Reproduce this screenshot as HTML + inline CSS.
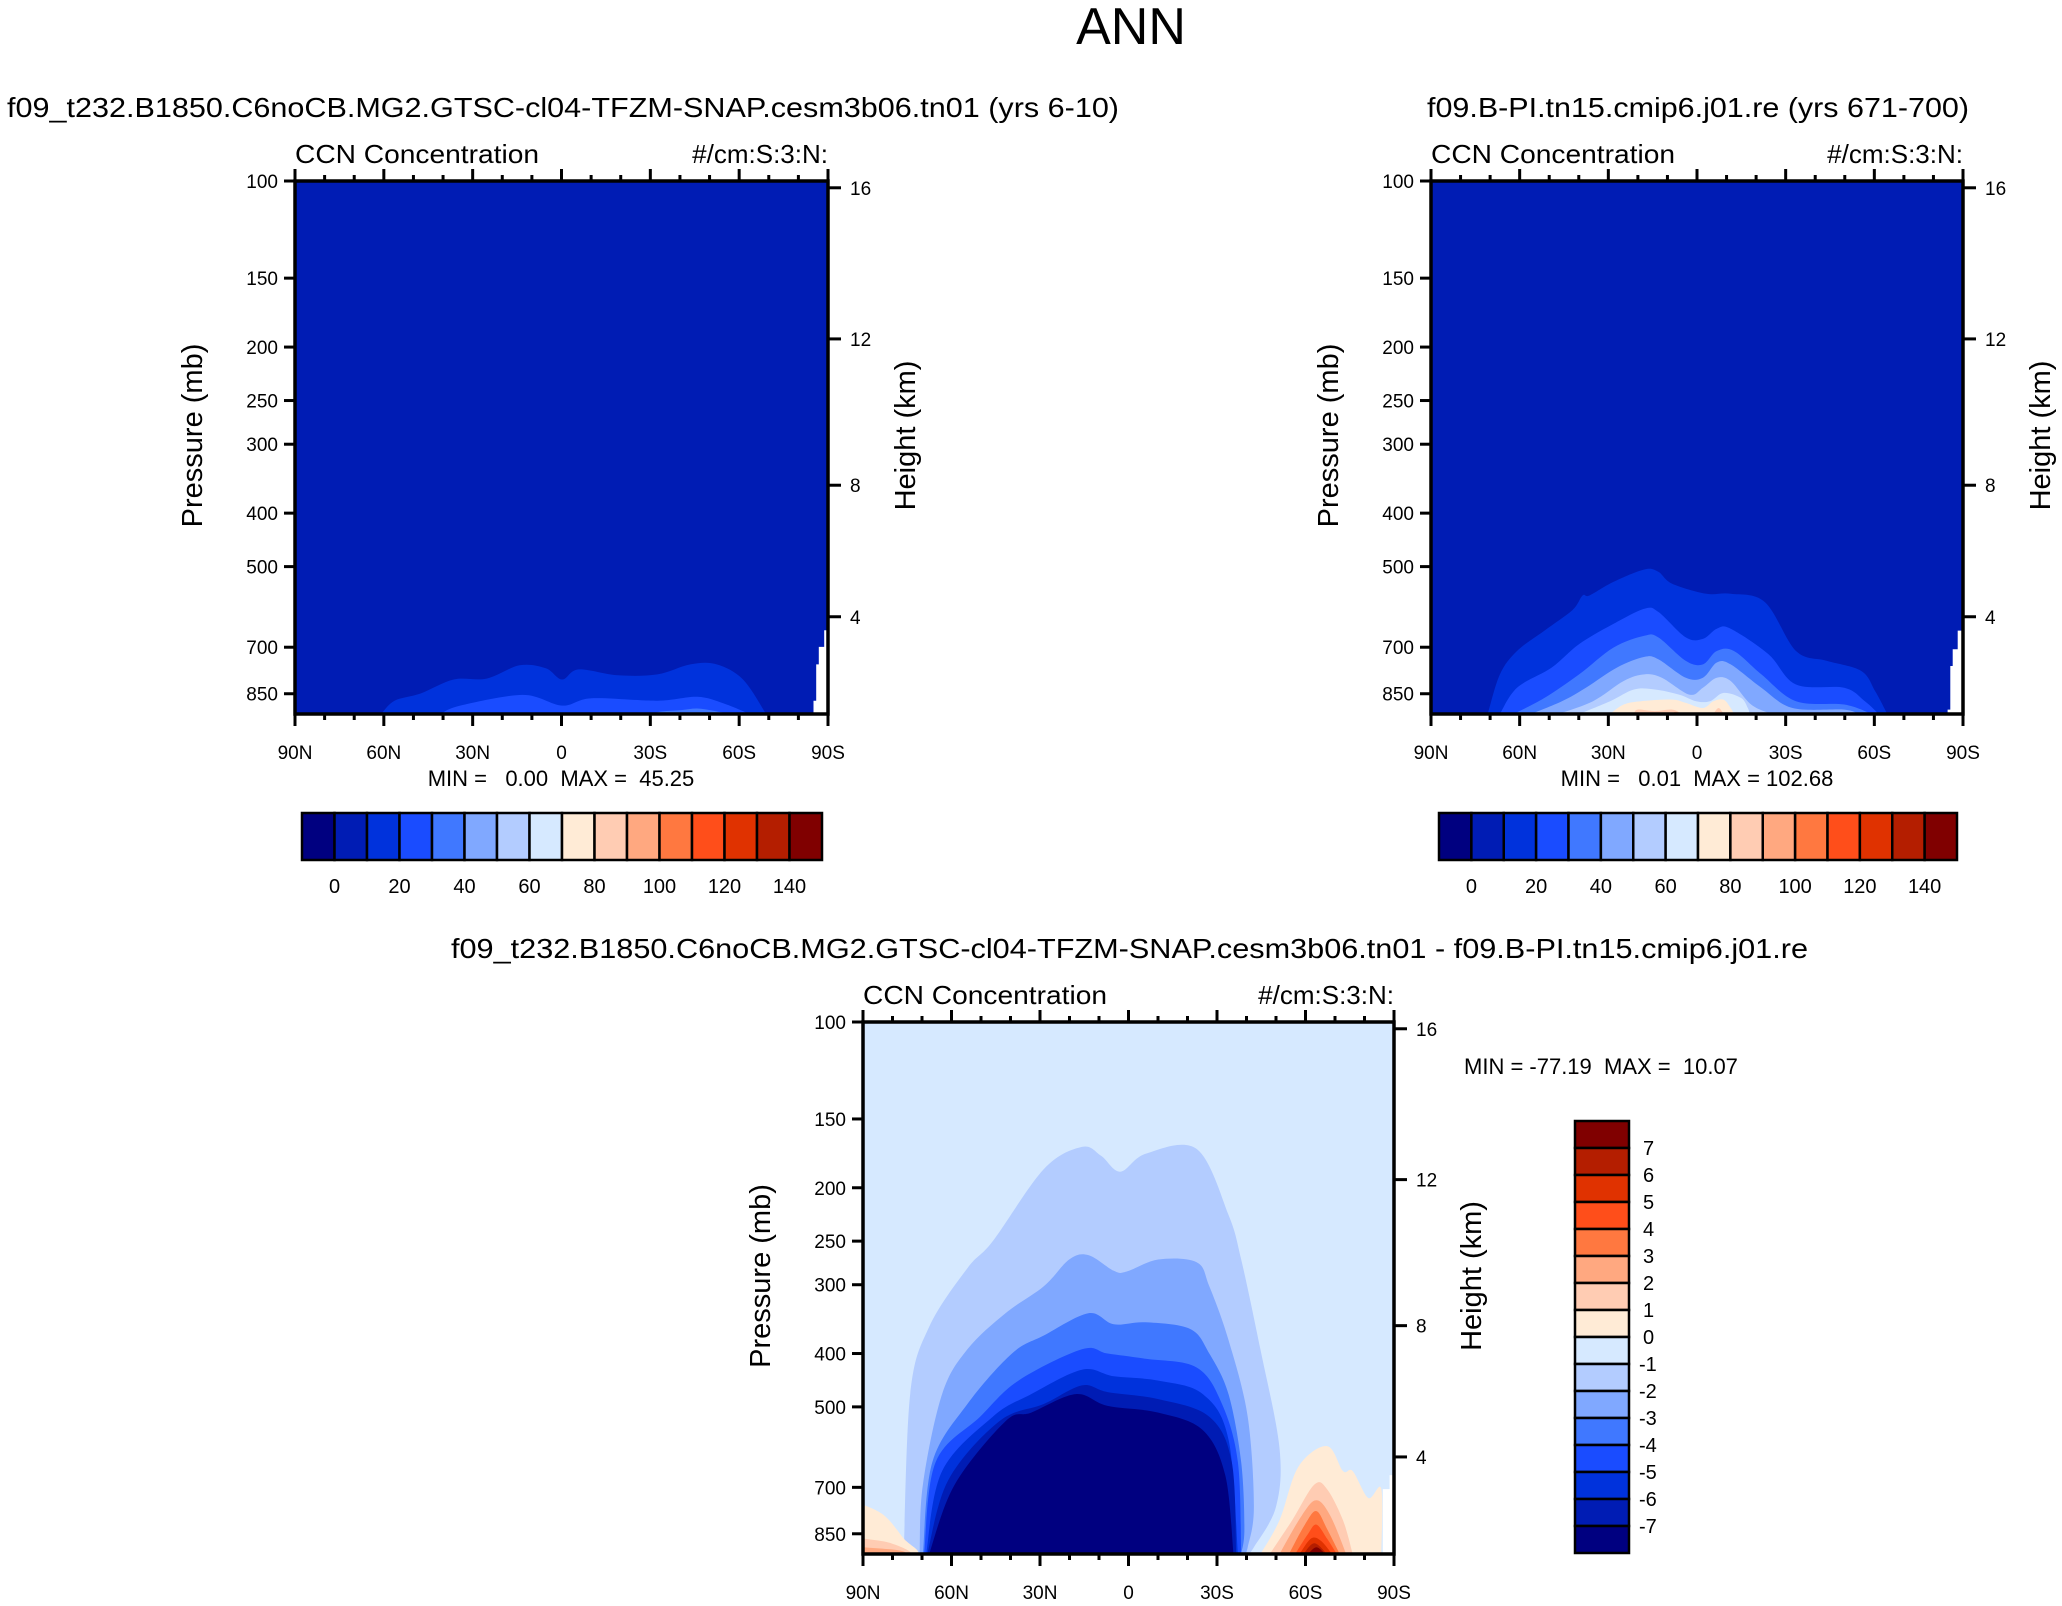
<!DOCTYPE html>
<html><head><meta charset="utf-8"><style>
html,body{margin:0;padding:0;background:#fff;}
svg{display:block;font-family:"Liberation Sans",Arial,sans-serif;}
</style></head><body>
<svg id="fig" width="2062" height="1606" viewBox="0 0 2062 1606" xmlns="http://www.w3.org/2000/svg">
<rect x="0" y="0" width="2062" height="1606" fill="#fff"/>
<text x="1131" y="44" font-size="52" text-anchor="middle">ANN</text>
<text x="7" y="117" font-size="28" textLength="1112" lengthAdjust="spacingAndGlyphs">f09_t232.B1850.C6noCB.MG2.GTSC-cl04-TFZM-SNAP.cesm3b06.tn01 (yrs 6-10)</text>
<text x="1427" y="117" font-size="28" textLength="542" lengthAdjust="spacingAndGlyphs">f09.B-PI.tn15.cmip6.j01.re (yrs 671-700)</text>
<text x="451" y="958" font-size="28" textLength="1357" lengthAdjust="spacingAndGlyphs">f09_t232.B1850.C6noCB.MG2.GTSC-cl04-TFZM-SNAP.cesm3b06.tn01 - f09.B-PI.tn15.cmip6.j01.re</text>
<text x="561" y="786" font-size="22" text-anchor="middle" xml:space="preserve">MIN =   0.00  MAX =  45.25</text>
<text x="1697" y="786" font-size="22" text-anchor="middle" xml:space="preserve">MIN =   0.01  MAX = 102.68</text>
<text x="1464" y="1074" font-size="22" xml:space="preserve">MIN = -77.19  MAX =  10.07</text>
</svg>
<script>
const palette = ["#000080","#001cb4","#0032dc","#1a4cff","#4078ff","#80a8ff","#b3ccff","#d6e9ff","#ffebd6","#ffccb3","#ffa880","#ff7840","#ff4e1a","#e03200","#b41e00","#800000"];
const pressureTicks = [100,150,200,250,300,400,500,700,850];
const heightTicks = [4,8,12,16];
const latTicks = [90,60,30,0,-30,-60,-90];
const latTickLabels = ["90N","60N","30N","0","30S","60S","90S"];
const absLevels = [0,20,40,60,80,100,120,140];
const diffLevels = [7,6,5,4,3,2,1,0,-1,-2,-3,-4,-5,-6,-7];

// test case contour regions (lat, pressure mb)
const testColor = [2,3,4];
const testLats = [
 [60.9,56.4,47.6,36.4,25.3,14.2,5.3,-0.2,-5.8,-19.1,-32.4,-43.5,-52.4,-61.3,-69.1],
 [40.9,34.2,13.1,-0.2,-10.2,-32.4,-45.8,-54.7,-63.5],
 [-30,-34,-40.4,-45.8,-51,-56.9]
];
const testPres = [
 [925,875,849,801,798,755,764,801,768,787,784,752,752,801,925],
 [925,893,854,893,866,875,861,885,925],
 [925,915,910,904,912,925]
];
const testMissingLats = [-85.1,-85.1,-86,-86,-86.9,-86.9,-88.7,-88.7,-90,-90];
const testMissingPres = [925,875,875,752,752,699,699,652,652,925];

// control case contour regions
const ctrlColor = [2,3,4,5,6,7,8,9,9,10];
const ctrlLats = [
 [70.8,66.7,60.9,51.6,42.2,38.7,36.4,28.3,17.8,13.1,8.4,-3.2,-11.4,-23,-33.5,-44,-55.6,-60.3,-64.4],
 [66.7,60.9,49.2,39.9,28.3,17.8,13.1,3.8,-2,-6.7,-11.4,-24.2,-33.5,-49.8,-56.8,-61.5],
 [62,51.6,39.9,28.3,17.8,13.1,3.8,-2,-6.7,-12.5,-21.8,-33.5,-49.8,-59.1],
 [56.2,45.7,37.6,27.1,17.8,13.1,3.8,-2,-6.7,-11.4,-21.8,-32.3,-49.8,-54.5],
 [46.9,35.2,24.8,17.8,11.9,2.6,-2,-6.7,-11.4,-18.3,-25.3],
 [39.9,29.4,21.3,14.3,6.1,0.3,-4.4,-9,-14.9,-17.2,-17.8],
 [29.4,24.8,18.9,8.4,3.8,-2,-5.5,-9,-11.4,-12.5],
 [21.3,20.1,14.3,8.4,5],
 [-5.5,-7.3,-9],
 [8.4,7.3,4.4]
];
const ctrlPres = [
 [925,784,711,653,600,564,564,533,506,511,537,560,560,580,711,741,773,841,925],
 [925,829,762,691,635,596,604,672,676,648,648,721,818,829,877,925],
 [925,865,784,701,667,672,741,752,711,711,784,877,889,925],
 [925,877,829,762,729,736,795,795,746,752,829,902,908,925],
 [925,877,806,784,795,853,829,795,806,889,925],
 [925,877,835,835,853,877,877,847,865,902,925],
 [925,889,877,871,883,902,877,871,902,925],
 [925,908,914,908,925],
 [925,902,925],
 [925,917,925]
];
const ctrlMissingLats = [-84.8,-84.8,-85.7,-85.7,-86.5,-86.5,-88.2,-88.2,-90,-90];
const ctrlMissingPres = [925,908,908,757,757,706,706,653,653,925];

// difference contour regions
const diffColor = [6,5,4,3,2,1,0,8,9,10,11,12,13,14,15,8,9,10];
const diffLats = [
 [76.2,74,67.6,54.6,46,28.7,15.8,9.3,2.8,-5.8,-23.1,-33.9,-38.2,-44.7,-51.2,-50,-42.5,-40.4],
 [70.8,69.7,63.2,54.6,41.7,28.7,20.1,13.6,5,0.7,-10.1,-23.1,-27.4,-33.9,-40.4,-42.5,-40.4,-39.3],
 [69.7,66.5,54.6,39.5,28.7,13.6,5,-5.8,-20.9,-27.4,-33.9,-38.2,-39.3,-38.2],
 [69.3,65.4,50.3,37.3,15.8,7.1,-5.8,-23.1,-31.7,-37.1,-38.2],
 [68.6,63.2,46,33,15.8,5,-10.1,-25.2,-33.9,-37.1],
 [68.2,61.1,43.8,28.7,15.8,7.1,-10.1,-27.4,-35,-36.5],
 [67.6,58.9,41.7,33,17.9,7.1,-10.1,-25.2,-32.8,-35.6],
 [-44.7,-51.2,-57.6,-67.3,-72.7,-76,-81.3,-85.7,-85.7],
 [-47.9,-55.5,-63,-67.3,-72.7,-76],
 [-51.2,-58.7,-63.7,-68.4,-73.8],
 [-54.4,-59.8,-63.7,-67.3,-71.6],
 [-56.5,-60.8,-63.7,-67.3,-70.6],
 [-58,-61.9,-65.2,-69],
 [-59.3,-63,-67.3],
 [-60.8,-63.7,-66.7],
 [90,82.7,76.2,71.9,90],
 [90,80.5,74,90],
 [90,78.3,76.2,90]
];
const diffPres = [
 [925,474,358,280,250,185,168.6,175,187,173.5,170,224,270,393,594,759,899,925],
 [925,692,474,393,338,302,270,265,283,284,270,273,302,378,521,759,899,925],
 [925,630,494,400,371,338,354,351,361,400,474,630,833,925],
 [925,630,521,448,393,400,409,424,494,630,925],
 [925,654,521,474,428,440,448,474,573,925],
 [925,679,531,494,457,470,484,521,630,925],
 [925,692,531,512,474,498,512,551,666,925],
 [925,803,642,589,654,654,732,705,925],
 [925,803,692,705,803,925],
 [925,788,739,788,925],
 [925,818,773,833,925],
 [925,851,818,867,925],
 [925,867,875,925],
 [925,884,925],
 [925,899,925],
 [752,788,867,925,925],
 [867,884,925,925],
 [899,910,925,925]
];
const diffMissingLats = [-86.2,-86.2,-88.5,-88.5,-90,-90];
const diffMissingPres = [925,705,705,665,665,925];

const NS = "http://www.w3.org/2000/svg";
const fig = document.getElementById("fig");
const P_TOP = 100, P_BOT = 925;

function el(tag, attrs, parent){
  const e = document.createElementNS(NS, tag);
  for (const k in attrs) e.setAttribute(k, attrs[k]);
  (parent||fig).appendChild(e);
  return e;
}
function heightToP(z){
  const m = z*1000;
  if (m <= 11000) return 1013.25*Math.pow(1-2.25577e-5*m, 5.25588);
  return 226.32*Math.exp(-(m-11000)/6341.6);
}
function smoothPath(pts){
  let d = "M"+pts[0][0].toFixed(1)+","+pts[0][1].toFixed(1);
  for (let i=0;i<pts.length-1;i++){
    const p0=pts[Math.max(0,i-1)], p1=pts[i], p2=pts[i+1], p3=pts[Math.min(pts.length-1,i+2)];
    const c1=[p1[0]+(p2[0]-p0[0])/6, p1[1]+(p2[1]-p0[1])/6];
    const c2=[p2[0]-(p3[0]-p1[0])/6, p2[1]-(p3[1]-p1[1])/6];
    d += "C"+c1[0].toFixed(1)+","+c1[1].toFixed(1)+" "+c2[0].toFixed(1)+","+c2[1].toFixed(1)+" "+p2[0].toFixed(1)+","+p2[1].toFixed(1);
  }
  return d+"Z";
}

function drawPanel(name, X0, Y0, W, H, bgIdx, colors, lats, pres, missLats, missPres){
  const g = el("g", {});
  
  
  const xOf = lat => X0 + (90-lat)/180*W;
  const yOf = p => Y0 + Math.log(Math.min(p,P_BOT)/P_TOP)/Math.log(P_BOT/P_TOP)*H;
  const clipId = name+"-clip";
  const defs = el("defs", {}, g);
  const cp = el("clipPath", {id: clipId}, defs);
  el("rect", {x:X0, y:Y0, width:W, height:H}, cp);
  const body = el("g", {"clip-path":"url(#"+clipId+")"}, g);
  const bg = el("rect", {x:X0, y:Y0, width:W, height:H, fill:palette[bgIdx]}, body);
  
  
  for (let i=0;i<lats.length;i++){
    const pts = lats[i].map((la,j)=>[xOf(la), yOf(pres[i][j])]);
    const path = el("path", {d: smoothPath(pts), fill: palette[colors[i]]}, body);
    
    
  }
  const mpts = missLats.map((la,j)=>xOf(la).toFixed(1)+","+yOf(missPres[j]).toFixed(1)).join(" ");
  const miss = el("polygon", {points: mpts, fill:"#fff"}, body);
  
  
  const frame = el("rect", {x:X0, y:Y0, width:W, height:H, fill:"none", stroke:"#000", "stroke-width":3.5}, g);
  
  
  // pressure ticks
  pressureTicks.forEach(p=>{
    const y = yOf(p);
    el("line", {x1:X0-11, x2:X0, y1:y, y2:y, stroke:"#000", "stroke-width":3}, g);
    const t = el("text", {x:X0-17, y:y+7, "font-size":19, "text-anchor":"end"}, g);
    t.textContent = p;
    
    
  });
  heightTicks.forEach(z=>{
    const y = yOf(heightToP(z));
    el("line", {x1:X0+W, x2:X0+W+13, y1:y, y2:y, stroke:"#000", "stroke-width":3}, g);
    const t = el("text", {x:X0+W+22, y:y+7, "font-size":19}, g);
    t.textContent = z;
    
    
  });
  for (let la=90; la>=-90; la-=10){
    const x = xOf(la);
    const major = (la % 30 === 0);
    const L = major ? 12 : 6;
    el("line", {x1:x, x2:x, y1:Y0-L, y2:Y0, stroke:"#000", "stroke-width":3}, g);
    el("line", {x1:x, x2:x, y1:Y0+H, y2:Y0+H+L, stroke:"#000", "stroke-width":3}, g);
  }
  latTicks.forEach((la,i)=>{
    const t = el("text", {x:xOf(la), y:Y0+H+45, "font-size":19, "text-anchor":"middle"}, g);
    t.textContent = latTickLabels[i];
    
    
  });
  const cx = Y0 + H/2;
  const yl = el("text", {x:0, y:0, "font-size":29, "text-anchor":"middle", transform:"translate("+(X0-93)+","+(cx-12)+") rotate(-90)"}, g);
  yl.textContent = "Pressure (mb)";
  
  
  const yr = el("text", {x:0, y:0, "font-size":29, "text-anchor":"middle", transform:"translate("+(X0+W+87)+","+(cx-12)+") rotate(-90)"}, g);
  yr.textContent = "Height (km)";
  
  
  const lt = el("text", {x:X0, y:Y0-18, "font-size":26, textLength:244, lengthAdjust:"spacingAndGlyphs"}, g);
  lt.textContent = "CCN Concentration";
  
  
  const rt = el("text", {x:X0+W, y:Y0-18, "font-size":26, "text-anchor":"end"}, g);
  rt.textContent = "#/cm:S:3:N:";
  
  
}

function hColorbar(name, X0, Y0, W, H){
  const g = el("g", {});
  
  
  const bw = W/palette.length;
  palette.forEach((c,i)=>{
    const r = el("rect", {x:X0+i*bw, y:Y0, width:bw, height:H, fill:c, stroke:"#000", "stroke-width":2.5}, g);
    
    
  });
  absLevels.forEach(v=>{
    const idx = v/10 + 1;
    const t = el("text", {x:X0+idx*bw, y:Y0+H+33, "font-size":20, "text-anchor":"middle"}, g);
    t.textContent = v;
    
    
  });
}
function vColorbar(name, X0, Y0, W, H){
  const g = el("g", {});
  
  
  const bh = H/palette.length;
  palette.slice().reverse().forEach((c,i)=>{
    const r = el("rect", {x:X0, y:Y0+i*bh, width:W, height:bh, fill:c, stroke:"#000", "stroke-width":2.5}, g);
    
    
  });
  diffLevels.forEach((v,i)=>{
    const t = el("text", {x:X0+W+(v<0?10:14), y:Y0+(i+1)*bh+7, "font-size":20}, g);
    t.textContent = v;
    
    
  });
}

drawPanel("test-case-panel", 295, 181, 533, 533, 1, testColor, testLats, testPres, testMissingLats, testMissingPres);
drawPanel("control-case-panel", 1431, 181, 532, 533, 1, ctrlColor, ctrlLats, ctrlPres, ctrlMissingLats, ctrlMissingPres);
drawPanel("difference-panel", 863, 1022, 531, 532, 7, diffColor, diffLats, diffPres, diffMissingLats, diffMissingPres);
hColorbar("test-colorbar", 302, 813, 520, 47);
hColorbar("control-colorbar", 1439, 813, 518, 47);
vColorbar("difference-colorbar", 1575, 1121, 54, 432);
</script>
</body></html>
